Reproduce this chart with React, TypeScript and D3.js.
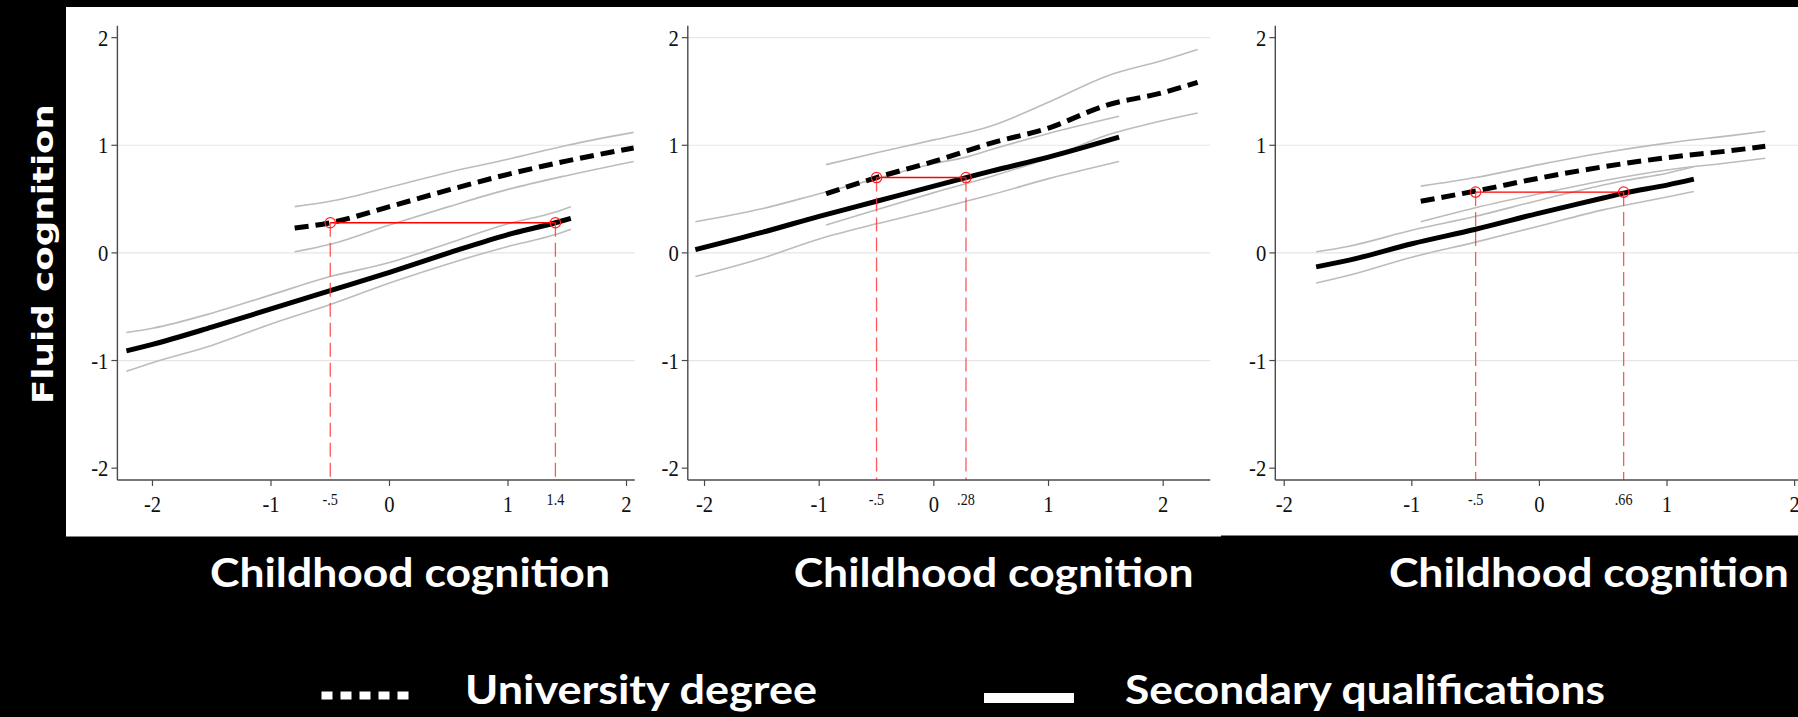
import React from "react";
import * as d3 from "d3";

const WIDTH = 1798;
const HEIGHT = 717;

// Axis ticks shared by the three panels
const xTickValues = [-2, -1, 0, 1, 2];
const yTickValues = [-2, -1, 0, 1, 2];

// Panel 1 — secondary qualifications (solid) with 95% band
const p1SecX = [-2.22, -2, -1.5, -1, -0.5, 0, 0.5, 1, 1.4, 1.53];
const p1SecY = [-0.91, -0.85, -0.69, -0.52, -0.35, -0.18, 0.0, 0.17, 0.28, 0.32];
const p1SecHi = [-0.74, -0.7, -0.56, -0.39, -0.22, -0.09, 0.09, 0.27, 0.38, 0.43];
const p1SecLo = [-1.1, -1.02, -0.86, -0.66, -0.48, -0.28, -0.1, 0.06, 0.17, 0.22];
// Panel 1 — university degree (dashed)
const p1UniX = [-0.8, -0.5, 0, 0.5, 1.0, 1.5, 2.06];
const p1UniY = [0.23, 0.28, 0.43, 0.585, 0.73, 0.855, 0.975];
const p1UniHi = [0.43, 0.48, 0.61, 0.75, 0.87, 1.0, 1.12];
const p1UniLo = [0.01, 0.08, 0.26, 0.43, 0.59, 0.72, 0.85];
const p1Grid = [-1, 0, 1];
const p1MarkX = [-0.5, 1.4];
const p1MarkLabels = ["-.5", "1.4"];
const p1MarkY = 0.28;

// Panel 2
const p2SecX = [-2.08, -1.5, -1.0, -0.5, 0, 0.28, 0.5, 1.0, 1.615];
const p2SecY = [0.03, 0.19, 0.34, 0.48, 0.62, 0.7, 0.76, 0.89, 1.075];
const p2SecHi = [0.29, 0.41, 0.55, 0.69, 0.83, 0.89, 0.96, 1.11, 1.27];
const p2SecLo = [-0.22, -0.05, 0.13, 0.27, 0.4, 0.48, 0.54, 0.69, 0.85];
const p2UniX = [-0.94, -0.5, 0, 0.5, 1.0, 1.5, 2.0, 2.3];
const p2UniY = [0.55, 0.7, 0.85, 1.02, 1.16, 1.37, 1.49, 1.585];
const p2UniHi = [0.82, 0.93, 1.05, 1.18, 1.4, 1.64, 1.79, 1.89];
const p2UniLo = [0.26, 0.4, 0.56, 0.71, 0.88, 1.09, 1.23, 1.3];
const p2Grid = [-1, 0, 1, 2];
const p2MarkX = [-0.5, 0.28];
const p2MarkLabels = ["-.5", ".28"];
const p2MarkY = 0.7;

// Panel 3
const p3SecX = [-1.75, -1.5, -1.0, -0.5, 0, 0.5, 0.66, 1.0, 1.21];
const p3SecY = [-0.13, -0.07, 0.085, 0.22, 0.37, 0.51, 0.555, 0.63, 0.685];
const p3SecHi = [0.01, 0.06, 0.21, 0.34, 0.49, 0.63, 0.67, 0.74, 0.8];
const p3SecLo = [-0.28, -0.21, -0.04, 0.1, 0.25, 0.4, 0.44, 0.52, 0.57];
const p3UniX = [-0.93, -0.5, 0, 0.5, 1.0, 1.5, 1.77];
const p3UniY = [0.48, 0.575, 0.695, 0.8, 0.885, 0.95, 0.99];
const p3UniHi = [0.62, 0.7, 0.82, 0.93, 1.02, 1.09, 1.13];
const p3UniLo = [0.29, 0.42, 0.55, 0.67, 0.77, 0.84, 0.88];
const p3Grid = [-1, 0, 1];
const p3MarkX = [-0.5, 0.66];
const p3MarkLabels = ["-.5", ".66"];
const p3MarkY = 0.565;

const yTitle = "Fluid cognition";
const xTitle = "Childhood cognition";
const legendLabels = ["University degree", "Secondary qualifications"];

type Series = { x: number[]; y: number[]; hi: number[]; lo: number[] };
type PanelData = {
  sec: Series;
  uni: Series;
  grid: number[];
  markX: number[];
  markLabels: string[];
  markY: number;
};

const panelData: PanelData[] = [
  {
    sec: { x: p1SecX, y: p1SecY, hi: p1SecHi, lo: p1SecLo },
    uni: { x: p1UniX, y: p1UniY, hi: p1UniHi, lo: p1UniLo },
    grid: p1Grid,
    markX: p1MarkX,
    markLabels: p1MarkLabels,
    markY: p1MarkY,
  },
  {
    sec: { x: p2SecX, y: p2SecY, hi: p2SecHi, lo: p2SecLo },
    uni: { x: p2UniX, y: p2UniY, hi: p2UniHi, lo: p2UniLo },
    grid: p2Grid,
    markX: p2MarkX,
    markLabels: p2MarkLabels,
    markY: p2MarkY,
  },
  {
    sec: { x: p3SecX, y: p3SecY, hi: p3SecHi, lo: p3SecLo },
    uni: { x: p3UniX, y: p3UniY, hi: p3UniHi, lo: p3UniLo },
    grid: p3Grid,
    markX: p3MarkX,
    markLabels: p3MarkLabels,
    markY: p3MarkY,
  },
];

// Pixel frame of each panel's plot region
const panelLayout = [
  { left: 117.4, right: 634.8, domain: [-2.296, 2.07], titleX: 410 },
  { left: 687.8, right: 1210.2, domain: [-2.146, 2.41], titleX: 993.7 },
  { left: 1275.3, right: 1813, domain: [-2.07, 2.144], titleX: 1588.9 },
];
const plotTop = 25.8;
const plotBottom = 480;
const yDomain: [number, number] = [-2.11, 2.11];

const serif = "'Liberation Serif', 'Times New Roman', serif";
const labelFont = "Lato, 'Open Sans', sans-serif";

// Narrow serif tick label
function TickText({
  x,
  y,
  anchor,
  size,
  children,
}: {
  x: number;
  y: number;
  anchor: "start" | "middle" | "end";
  size: number;
  children: React.ReactNode;
}) {
  return (
    <text
      transform={`translate(${x},${y}) scale(0.86,1)`}
      textAnchor={anchor}
      fontFamily={serif}
      fontSize={size}
      fill="#111"
    >
      {children}
    </text>
  );
}

function Panel({ data, layout }: { data: PanelData; layout: (typeof panelLayout)[number] }) {
  const xs = d3.scaleLinear().domain(layout.domain).range([layout.left, layout.right]);
  const ys = d3.scaleLinear().domain(yDomain).range([plotBottom, plotTop]);
  const mk = (xv: number[], yv: number[]) => {
    const pts: [number, number][] = xv.map((v, i) => [v, yv[i]]);
    return (
      d3
        .line<[number, number]>()
        .x((d) => xs(d[0]))
        .y((d) => ys(d[1]))
        .curve(d3.curveMonotoneX)(pts) || ""
    );
  };
  const axisColor = "#4a4a4a";
  const [mx0, mx1] = data.markX;
  return (
    <g>
      {/* horizontal gridlines */}
      {data.grid.map((g) => (
        <line
          key={"g" + g}
          x1={layout.left}
          x2={layout.right}
          y1={ys(g)}
          y2={ys(g)}
          stroke="#e6e6e6"
          strokeWidth={1.2}
        />
      ))}
      {/* confidence bands */}
      {[data.sec.hi, data.sec.lo].map((v, i) => (
        <path key={"sc" + i} d={mk(data.sec.x, v)} fill="none" stroke="#bcbcbc" strokeWidth={1.6} />
      ))}
      {[data.uni.hi, data.uni.lo].map((v, i) => (
        <path key={"uc" + i} d={mk(data.uni.x, v)} fill="none" stroke="#bcbcbc" strokeWidth={1.6} />
      ))}
      {/* fitted lines */}
      <path d={mk(data.sec.x, data.sec.y)} fill="none" stroke="#000" strokeWidth={5} />
      <path
        d={mk(data.uni.x, data.uni.y)}
        fill="none"
        stroke="#000"
        strokeWidth={5}
        strokeDasharray="14 7"
      />
      {/* equivalence markers */}
      {data.markX.map((m) => (
        <line
          key={"v" + m}
          x1={xs(m)}
          x2={xs(m)}
          y1={ys(data.markY)}
          y2={plotBottom}
          stroke="#ff3b3b"
          strokeOpacity={0.85}
          strokeWidth={1.3}
          strokeDasharray="14 6"
        />
      ))}
      <line
        x1={xs(mx0)}
        x2={xs(mx1)}
        y1={ys(data.markY)}
        y2={ys(data.markY)}
        stroke="#ff0000"
        strokeWidth={1.4}
      />
      {data.markX.map((m) => (
        <circle
          key={"c" + m}
          cx={xs(m)}
          cy={ys(data.markY)}
          r={5.2}
          fill="none"
          stroke="#ff2020"
          strokeWidth={1.2}
        />
      ))}
      {/* axes */}
      <line x1={layout.left} x2={layout.left} y1={plotTop} y2={plotBottom} stroke={axisColor} strokeWidth={1.4} />
      <line x1={layout.left} x2={layout.right} y1={plotBottom} y2={plotBottom} stroke={axisColor} strokeWidth={1.4} />
      {yTickValues.map((t) => (
        <g key={"yt" + t}>
          <line x1={layout.left - 6} x2={layout.left} y1={ys(t)} y2={ys(t)} stroke={axisColor} strokeWidth={1.2} />
          <TickText x={layout.left - 9} y={ys(t) + 8} anchor="end" size={24}>
            {t}
          </TickText>
        </g>
      ))}
      {xTickValues.map((t) => (
        <g key={"xt" + t}>
          <line x1={xs(t)} x2={xs(t)} y1={plotBottom} y2={plotBottom + 6} stroke={axisColor} strokeWidth={1.2} />
          <TickText x={xs(t)} y={512} anchor="middle" size={24}>
            {t}
          </TickText>
        </g>
      ))}
      {data.markX.map((m, i) => (
        <TickText key={"ml" + m} x={xs(m)} y={505} anchor="middle" size={16.5}>
          {data.markLabels[i]}
        </TickText>
      ))}
      {/* x-axis title */}
      <text
        x={layout.titleX}
        y={587}
        textAnchor="middle"
        fontFamily={labelFont}
        fontWeight={700}
        fontSize={40}
        fill="#fff"
        textLength={400}
        lengthAdjust="spacingAndGlyphs"
      >
        {xTitle}
      </text>
    </g>
  );
}

export default function App() {
  return (
    <svg
      width={WIDTH}
      height={HEIGHT}
      viewBox={`0 0 ${WIDTH} ${HEIGHT}`}
      style={{ position: "fixed", left: 0, top: 0, display: "block" }}
    >
      <rect x={0} y={0} width={WIDTH} height={HEIGHT} fill="#000" />
      <rect x={66} y={7} width={1221 - 66} height={536.5 - 7} fill="#fff" />
      <rect x={1221} y={7} width={WIDTH - 1221} height={535.5 - 7} fill="#fff" />
      {panelData.map((d, i) => (
        <Panel key={i} data={d} layout={panelLayout[i]} />
      ))}
      {/* y-axis title */}
      <text
        transform="translate(53,254) rotate(-90)"
        textAnchor="middle"
        fontFamily="'DejaVu Sans', Verdana, sans-serif"
        fontWeight={700}
        fontSize={28}
        fill="#fff"
        textLength={300}
        lengthAdjust="spacingAndGlyphs"
      >
        {yTitle}
      </text>
      {/* legend */}
      <line x1={321.5} x2={411} y1={695.5} y2={695.5} stroke="#fff" strokeWidth={8} strokeDasharray="11 8" />
      <text
        x={465}
        y={703.5}
        fontFamily={labelFont}
        fontWeight={700}
        fontSize={40}
        fill="#fff"
        textLength={352}
        lengthAdjust="spacingAndGlyphs"
      >
        {legendLabels[0]}
      </text>
      <rect x={984} y={693} width={90} height={10} fill="#fff" />
      <text
        x={1125}
        y={703.5}
        fontFamily={labelFont}
        fontWeight={700}
        fontSize={40}
        fill="#fff"
        textLength={480}
        lengthAdjust="spacingAndGlyphs"
      >
        {legendLabels[1]}
      </text>
    </svg>
  );
}
